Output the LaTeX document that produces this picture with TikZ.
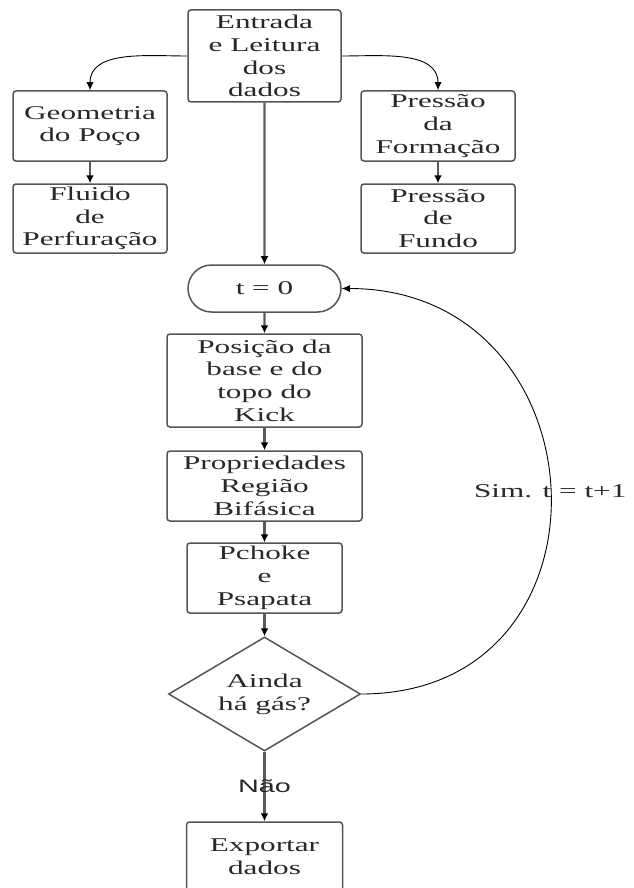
\documentclass[tikz,border=0pt]{standalone}
\usepackage{fontspec}
\setmainfont{Liberation Serif}[FakeStretch=1.6]
\newfontfamily\labelsans{Liberation Sans}[FakeStretch=1.6]
\usetikzlibrary{arrows.meta,shapes.geometric,shapes.misc}
\definecolor{boxgray}{RGB}{85,85,85}
\definecolor{txtgray}{RGB}{40,40,40}
\definecolor{linegray}{RGB}{90,90,90}
\tikzset{
  txt/.style={text=txtgray, font=\fontsize{19.5}{22.7}\selectfont, align=center, inner sep=0pt},
  box/.style={txt, draw=boxgray, line width=1.5pt, rounded corners=3pt},
  term/.style={txt, draw=boxgray, line width=1.5pt, rounded rectangle},
  decide/.style={txt, draw=boxgray, line width=1.5pt, diamond, shape aspect=1.68},
  flow/.style={draw=linegray, line width=2.2pt, -{Latex[length=8pt,width=8pt,color=black]}},
  curvy/.style={draw=black, line width=0.9pt, -{Latex[length=8pt,width=7pt,color=black]}},
}
\begin{document}
\begin{tikzpicture}[x=1pt,y=1pt]
\useasboundingbox (0,0) rectangle (633,-888);
\node[box, minimum width=153, minimum height=92] (ent) at (264.5,-56) {Entrada\\e Leitura\\dos\\dados};
\node[box, minimum width=154, minimum height=70] (geo) at (90,-126) {Geometria\\do Poço};
\node[box, minimum width=154, minimum height=69] (flu) at (90,-218.5) {Fluido\\de\\Perfuração};
\node[box, minimum width=154, minimum height=70] (pfo) at (438,-126) {Pressão\\da\\Formação};
\node[box, minimum width=154, minimum height=69] (pfu) at (438,-218.5) {Pressão\\de\\Fundo};
\node[term, minimum width=153, minimum height=47] (t0) at (264.5,-288.5) {t = 0};
\node[box, minimum width=195, minimum height=93] (pos) at (264.5,-380.5) {Posição da\\base e do\\topo do\\Kick};
\node[box, minimum width=195, minimum height=70] (pro) at (264.5,-486) {Propriedades\\Região\\Bifásica};
\node[box, minimum width=155, minimum height=70] (pch) at (264.5,-578) {Pchoke\\e\\Psapata};
\node[decide, minimum width=192, minimum height=114] (gas) at (264.5,-694) {Ainda\\há gás?};
\node[box, minimum width=156, minimum height=70] (exp) at (264.5,-857) {Exportar\\dados};

\draw[curvy] (ent.west) to[out=180,in=90] (geo.north);
\draw[curvy] (ent.east) to[out=0,in=90] (pfo.north);
\draw[flow] (geo) -- (flu);
\draw[flow] (pfo) -- (pfu);
\draw[flow] (ent) -- (t0);
\draw[flow] (t0) -- (pos);
\draw[flow] (pos) -- (pro);
\draw[flow] (pro) -- (pch);
\draw[flow] (pch) -- (gas);
\draw[flow] (gas) -- node[text=txtgray, font=\labelsans\fontsize{18}{20}\selectfont, inner sep=0pt] {Não} (exp);
\draw[curvy] (gas.east) .. controls +(265,0) and +(265,0) .. node[pos=0.5, txt] {Sim. t = t+1} (t0.east);
\end{tikzpicture}
\end{document}
